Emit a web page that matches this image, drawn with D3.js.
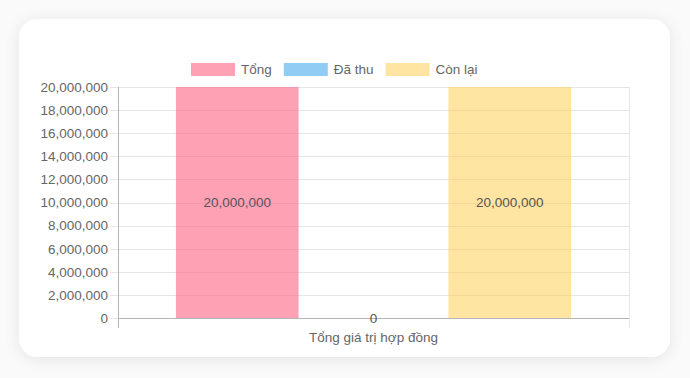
<!DOCTYPE html>
<html><head><meta charset="utf-8">
<script src="https://cdn.jsdelivr.net/npm/d3@7"></script>
<style>
html,body{margin:0;padding:0;background:#fafafa;}
body{width:690px;height:378px;overflow:hidden;}
.card{position:absolute;left:19px;top:19px;width:651px;height:338px;background:#fff;border-radius:18px;box-shadow:0 2px 16px rgba(0,0,0,0.09);}
svg{position:absolute;left:0;top:0;}
text{font-family:"Liberation Sans",Arial,Helvetica,sans-serif;}
</style></head>
<body>
<div class="card"></div>
<svg id="chart" width="690" height="378"></svg>
<script>
const categories = ["Tổng giá trị hợp đồng"];
const seriesNames = ["Tổng", "Đã thu", "Còn lại"];
const seriesValues = [20000000, 0, 20000000];
const seriesColors = ["rgba(255,99,132,0.6)", "rgba(54,162,235,0.55)", "rgba(255,206,86,0.55)"];
const yTicks = [0,2000000,4000000,6000000,8000000,10000000,12000000,14000000,16000000,18000000,20000000];

const svg = d3.select("#chart");
const L = 118, R = 629, T = 87, B = 318;
const FS = 13.5;
const fmt = d3.format(",");

const y = d3.scaleLinear().domain([0, 20000000]).range([B, T]);
const x0 = d3.scaleBand().domain(categories).range([L, R]).paddingInner(0).paddingOuter(0);
const catInner = x0.bandwidth() * 0.8;
const x1 = d3.scaleBand().domain(seriesNames)
  .range([x0(categories[0]) + x0.bandwidth()*0.1, x0(categories[0]) + x0.bandwidth()*0.1 + catInner])
  .paddingInner(0.1).paddingOuter(0.05);

// horizontal grid
svg.append("g").selectAll("line").data(yTicks).join("line")
  .attr("x1", L - 8).attr("x2", R).attr("y1", d => Math.round(y(d))+0.5).attr("y2", d => Math.round(y(d))+0.5)
  .attr("stroke", "#e5e5e5").attr("stroke-width", 1);

// right border
svg.append("line").attr("x1", R+0.5).attr("x2", R+0.5).attr("y1", T).attr("y2", B+10)
  .attr("stroke", "#e5e5e5");

// y axis
const yAxis = d3.axisLeft(y).tickValues(yTicks).tickFormat(fmt).tickSize(0).tickPadding(10);
const gy = svg.append("g").attr("transform", `translate(${L},0)`).call(yAxis);
gy.select(".domain").remove();
gy.selectAll("text").attr("font-size", FS).attr("fill", "#666").attr("font-family", "'Liberation Sans',Arial,sans-serif");

// bars
svg.append("g").selectAll("rect").data(seriesNames).join("rect")
  .attr("x", d => x1(d)).attr("width", x1.bandwidth())
  .attr("y", (d,i) => y(seriesValues[i])).attr("height", (d,i) => B - y(seriesValues[i]))
  .attr("fill", (d,i) => seriesColors[i]);

// axis lines
svg.append("line").attr("x1", L+0.5).attr("x2", L+0.5).attr("y1", T).attr("y2", B+10).attr("stroke", "#b5b5b5");
svg.append("line").attr("x1", L).attr("x2", R).attr("y1", B+0.5).attr("y2", B+0.5).attr("stroke", "#b5b5b5");

// data labels
svg.append("g").selectAll("text").data(seriesNames).join("text")
  .attr("x", d => x1(d) + x1.bandwidth()/2)
  .attr("y", (d,i) => (y(seriesValues[i]) + B)/2)
  .attr("text-anchor", "middle").attr("dominant-baseline", "central")
  .attr("font-size", FS).attr("fill", "#555")
  .text((d,i) => fmt(seriesValues[i]));

// x axis label
const xAxis = d3.axisBottom(x0).tickSize(0).tickPadding(14);
const gx = svg.append("g").attr("transform", `translate(0,${B})`).call(xAxis);
gx.select(".domain").remove();
gx.selectAll("text").attr("font-size", FS).attr("fill", "#666").attr("font-family", "'Liberation Sans',Arial,sans-serif");

// legend
const lg = svg.append("g");
let lx = 191;
seriesNames.forEach((n, i) => {
  lg.append("rect").attr("x", lx).attr("y", 63).attr("width", 44).attr("height", 13)
    .attr("fill", seriesColors[i]);
  const t = lg.append("text").attr("x", lx + 50).attr("y", 69.5).attr("dominant-baseline", "central")
    .attr("font-size", FS).attr("fill", "#666").text(n);
  lx += 50 + t.node().getComputedTextLength() + 12;
});
</script>
</body></html>
